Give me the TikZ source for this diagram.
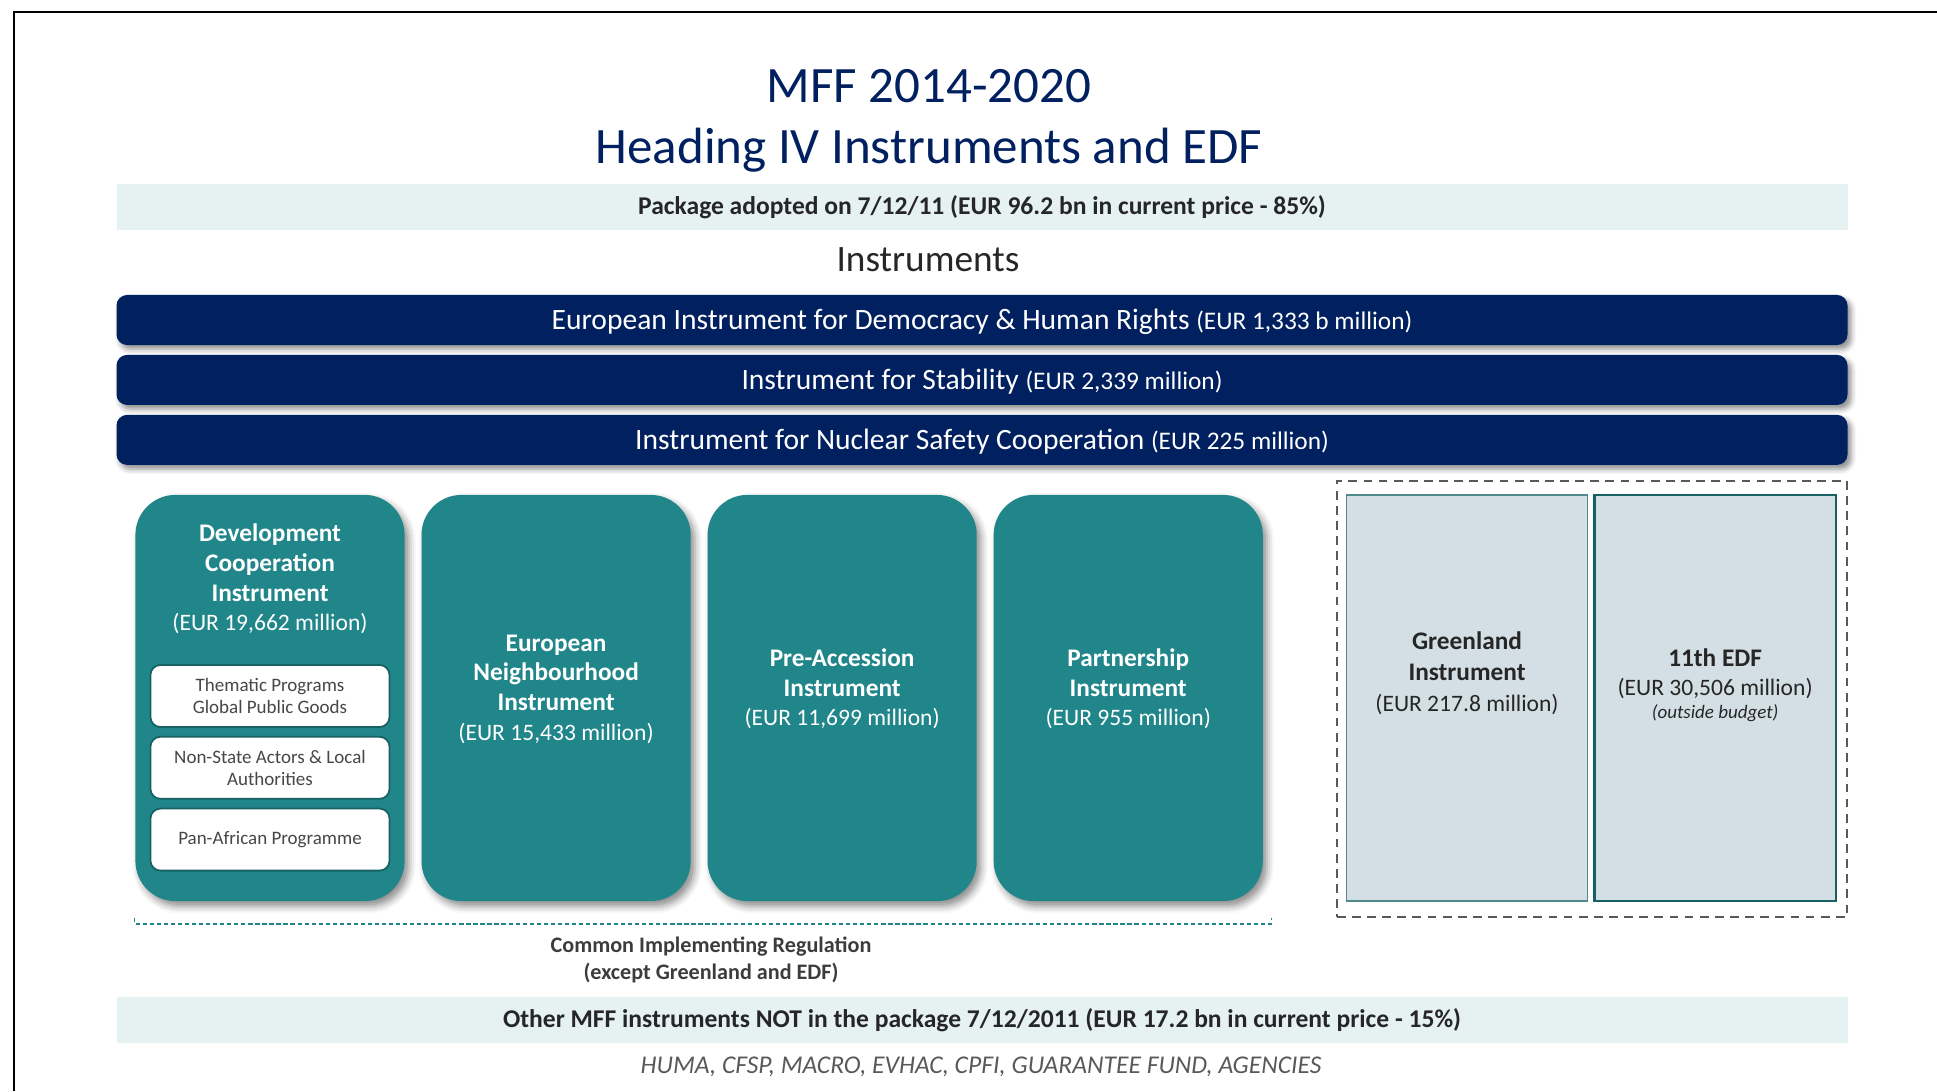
\documentclass[tikz,border=0pt]{standalone}
\usepackage{fontspec}
\setmainfont{Carlito}
\usepackage{tikz}
\usetikzlibrary{positioning, calc, shadows.blur}
\usepackage{xcolor}

\definecolor{navy}{RGB}{0,32,96}
\definecolor{petrol}{RGB}{32,134,138}
\definecolor{petroldark}{RGB}{23,96,100}
\definecolor{paleband}{RGB}{230,242,242}
\definecolor{greyblue}{RGB}{211,223,229}
\definecolor{inkgrey}{RGB}{38,38,38}
\definecolor{midgrey}{RGB}{89,89,89}

\newcommand{\amount}[1]{{\mdseries\fontsize{6.7}{8.45}\selectfont #1}}
\newcommand{\baramount}[1]{{\fontsize{7.2}{9}\selectfont #1}}

\tikzstyle{band} = [rectangle, minimum width=17.3cm, minimum height=0.46cm, inner sep=0pt, fill=paleband, text=inkgrey, font=\fontsize{7.27}{8}\selectfont\bfseries]
\tikzstyle{bar} = [rectangle, rounded corners=3pt, minimum width=17.3cm, minimum height=0.5cm, inner sep=0pt, text height=7pt, text depth=1.8pt, fill=navy, text=white, font=\fontsize{8.4}{10}\selectfont, blur shadow={shadow xshift=1pt, shadow yshift=-1.2pt, shadow blur radius=1.5pt, shadow opacity=45}]
\tikzstyle{instbox} = [rectangle, rounded corners=0.4cm, minimum width=2.69cm, minimum height=4.06cm, inner sep=0pt, fill=petrol, blur shadow={shadow xshift=1.2pt, shadow yshift=-1.5pt, shadow blur radius=2pt, shadow opacity=45}]
\tikzstyle{insttext} = [align=center, text=white, font=\fontsize{7.2}{8.45}\selectfont\bfseries]
\tikzstyle{subbox} = [rectangle, rounded corners=0.1cm, minimum width=2.39cm, minimum height=0.62cm, inner sep=0pt, fill=white, draw=petroldark, line width=0.5pt, align=center, text=inkgrey!85, font=\fontsize{5.4}{6.3}\selectfont]
\tikzstyle{edfbox} = [rectangle, minimum width=2.41cm, minimum height=4.06cm, inner sep=0pt, fill=greyblue, draw=petroldark, line width=0.6pt]
\tikzstyle{edftext} = [align=center, text=inkgrey, font=\fontsize{7.2}{8.8}\selectfont\bfseries]
\tikzstyle{bracket} = [petrol, line width=0.4pt, dash pattern=on 1.2pt off 0.8pt]

\begin{document}
\begin{tikzpicture}[x=0.01cm, y=-0.01cm]
  \useasboundingbox (0,0) rectangle (1937,1091);
  \draw[line width=0.8pt] (14,1091) -- (14,12) -- (1937,12);

  % Title
  \node[align=center, text=navy, font=\fontsize{14.5}{17.4}\selectfont] (title) at (929,121) {MFF 2014-2020\\Heading IV Instruments and EDF};
  \node[band] (package) at (982,207) {Package adopted on 7/12/11 (EUR 96.2 bn in current price - 85\%)};
  \node[text=inkgrey, font=\fontsize{10.6}{12}\selectfont] (instr) at (928,260) {Instruments};

  % Horizontal instruments
  \node[bar] (eidhr) at (982,320) {European Instrument for Democracy \& Human Rights \baramount{(EUR 1,333 b million)}};
  \node[bar, below=0.085cm of eidhr] (ifs) {Instrument for Stability \baramount{(EUR 2,339 million)}};
  \node[bar, below=0.085cm of ifs] (insc) {Instrument for Nuclear Safety Cooperation \baramount{(EUR 225 million)}};

  % Geographic instruments
  \node[instbox] (dci) at (270,698) {};
  \node[instbox, right=0.155cm of dci] (eni) {};
  \node[instbox, right=0.155cm of eni] (ipa) {};
  \node[instbox, right=0.155cm of ipa] (pi) {};

  \node[insttext] (dcitext) at (270,579) {Development\\Cooperation\\Instrument\\\amount{(EUR 19,662 million)}};
  \node[insttext] (enitext) at ($(eni)+(0,-9)$) {European\\Neighbourhood\\Instrument\\\amount{(EUR 15,433 million)}};
  \node[insttext] (ipatext) at ($(ipa)+(0,-9)$) {Pre-Accession\\Instrument\\\amount{(EUR 11,699 million)}};
  \node[insttext] (pitext) at ($(pi)+(0,-9)$) {Partnership\\Instrument\\\amount{(EUR 955 million)}};

  \node[subbox] (thematic) at (270,696) {Thematic Programs\\Global Public Goods};
  \node[subbox, below=0.08cm of thematic] (nsa) {Non-State Actors \& Local\\Authorities};
  \node[subbox, below=0.08cm of nsa] (panaf) {Pan-African Programme};

  % Outside the common regulation
  \node[rectangle, minimum width=5.1cm, minimum height=4.36cm, draw=black!65, line width=0.6pt, dash pattern=on 2.5pt off 1.8pt] (outside) at (1592,699) {};
  \node[edfbox, draw=petroldark!75, line width=0.5pt] (greenland) at (1467,698) {};
  \node[edfbox, right=0.05cm of greenland] (edf) {};
  \node[edftext] (greentext) at ($(greenland)+(0,-25)$) {Greenland\\Instrument\\\amount{(EUR 217.8 million)}};
  \node[edftext] (edftext) at ($(edf)+(0,-12.5)$) {11th EDF\\[-0.7pt]\amount{(EUR 30,506 million)}\\[-2.1pt]{\mdseries\itshape\fontsize{5.4}{7}\selectfont (outside budget)}};

  % Common implementing regulation
  \draw[bracket] ($(dci.south west)+(0,16)$) -- ++(0,6) -| ($(pi.south east)+(8,16)$);
  \node[align=center, text=inkgrey!90, font=\fontsize{6.3}{7.7}\selectfont\bfseries] (cir) at (711,960) {Common Implementing Regulation\\(except Greenland and EDF)};

  % Other instruments
  \node[band] (other) at (982,1020) {Other MFF instruments NOT in the package 7/12/2011 (EUR 17.2 bn in current price - 15\%)};
  \node[text=midgrey, font=\fontsize{7.27}{8}\selectfont\itshape] (others) at (981,1067) {HUMA, CFSP, MACRO, EVHAC, CPFI, GUARANTEE FUND, AGENCIES};
\end{tikzpicture}
\end{document}
